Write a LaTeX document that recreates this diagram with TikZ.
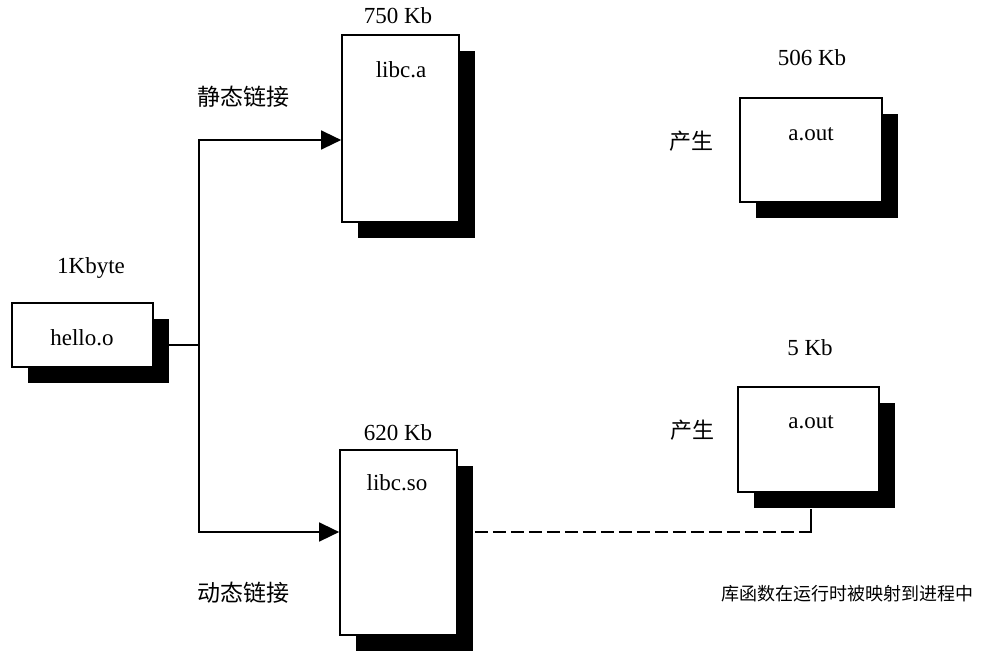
\documentclass[tikz,border=0pt]{standalone}
\usepackage{fontspec}
\setmainfont{Liberation Serif}
\newfontfamily\cjk{Noto Sans CJK SC}
\usetikzlibrary{arrows.meta,shadows}
\begin{document}
\begin{tikzpicture}[x=1pt,y=-1pt,
  box/.style={draw=black,line width=1.7pt,fill=white,inner sep=0pt,
    drop shadow={shadow xshift=16pt,shadow yshift=-16pt,opacity=1,fill=black}},
  lat/.style={font=\fontsize{23}{26}\selectfont,inner sep=0pt,anchor=base},
  zh/.style={font=\fontsize{22}{26}\selectfont\cjk,inner sep=0pt},
  zhs/.style={font=\fontsize{18}{22}\selectfont\cjk,inner sep=0pt},
  conn/.style={line width=1.5pt},
  arr/.style={conn,-{Triangle[length=20pt,width=19pt]}},
  dsh/.style={conn,dash pattern=on 13pt off 5pt},
]
\useasboundingbox (0,0) rectangle (987,654);

% boxes
\node[box,minimum width=141pt,minimum height=64pt] (hello) at (82.5,335) {};
\node[box,minimum width=117pt,minimum height=187pt] (libca) at (400.5,128.5) {};
\node[box,minimum width=117pt,minimum height=185pt] (libcso) at (398.5,542.5) {};
\node[box,minimum width=142pt,minimum height=104pt] (aout1) at (811,150) {};
\node[box,minimum width=141pt,minimum height=105pt] (aout2) at (808.5,439.5) {};

% texts
\node[lat] (t1k) at (91,273) {1Kbyte};
\node[lat] (thello) at (82,345) {hello.o};
\node[lat] (t750) at (398,23) {750 Kb};
\node[lat] (tlibca) at (401,77) {libc.a};
\node[lat] (t620) at (398,440) {620 Kb};
\node[lat] (tlibcso) at (397,490) {libc.so};
\node[lat] (t506) at (812,65) {506 Kb};
\node[lat] (taout1) at (811,140) {a.out};
\node[lat] (t5) at (810,355) {5 Kb};
\node[lat] (taout2) at (811,428) {a.out};
\node[zh,font=\fontsize{23}{26}\selectfont\cjk] (tstatic) at (243,97) {静态链接};
\node[zh,font=\fontsize{23}{26}\selectfont\cjk] (tdyn) at (243,593) {动态链接};
\node[zh] (tgen1) at (691,141) {产生};
\node[zh] (tgen2) at (692,430) {产生};
\node[zhs] (tmap) at (847,594) {库函数在运行时被映射到进程中};

% connectors
\coordinate (j) at (199,345);
\coordinate (d) at (811,532);
\draw[conn] ([yshift=-10pt]hello.east) -- (j);
\draw[arr] (j) |- ([yshift=-11.5pt]libca.west);
\draw[arr] (j) |- ([yshift=10.5pt]libcso.west);
\draw[dsh] ([xshift=17pt,yshift=10.5pt]libcso.east) -- (d);
\draw[conn] ([xshift=-6pt]d) -- (d) -- ([xshift=2.5pt,yshift=-16pt]aout2.south);
\end{tikzpicture}
\end{document}
